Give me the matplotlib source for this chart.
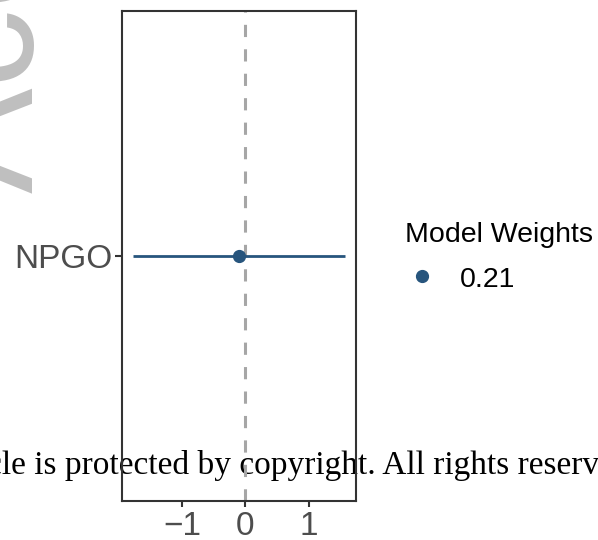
import matplotlib
matplotlib.use("Agg")
import matplotlib.pyplot as plt
from matplotlib.lines import Line2D

# data
covariates = ["NPGO"]
estimate = [-0.11]
lower = [-1.78]
upper = [1.575]
model_weights = [0.21]

point_color = "#27557d"
W, H = 598, 540

fig = plt.figure(figsize=(W / 100, H / 100), dpi=100)
ax = fig.add_axes([122 / W, 1 - 501 / H, (356 - 122) / W, (501 - 11) / H])
ax.set_facecolor("none")

ypos = list(range(1, len(covariates) + 1))
ax.axvline(0, color="#a6a6a6", lw=2.2, ls=(0, (4, 4)), zorder=1)
ax.hlines(ypos, lower, upper, color=point_color, lw=2.0, zorder=2)
ax.plot(estimate, ypos, "o", color=point_color, ms=8.5, zorder=3)

# ggplot-style 5% expansion on x, 0.6 on discrete y
lo, hi = min(lower), max(upper)
pad = 0.05 * (hi - lo)
ax.set_xlim(lo - pad, hi + pad)
ax.set_ylim(0.4, len(covariates) + 0.6)
ax.set_xticks([-1, 0, 1])
ax.set_xticklabels(["\u22121", "0", "1"])
ax.set_yticks(ypos)
ax.set_yticklabels(covariates)

for s in ax.spines.values():
    s.set_color("#333333")
    s.set_linewidth(1.5)
ax.tick_params(axis="x", colors="#333333", width=1.5, length=4.5, pad=3,
               labelsize=24, labelcolor="#4d4d4d")
ax.tick_params(axis="y", colors="#333333", width=1.5, length=5, pad=2,
               labelsize=24, labelcolor="#4d4d4d")
for lab in ax.get_xticklabels() + ax.get_yticklabels():
    lab.set_family("Liberation Sans")

# legend drawn by hand
fig.text(405 / W, 1 - 242 / H, "Model Weights", fontsize=20.5,
         family="Liberation Sans", va="baseline", ha="left")
fig.add_artist(Line2D([422 / W], [1 - 276 / H], marker="o", ms=8.5,
                      color=point_color, transform=fig.transFigure))
fig.text(460 / W, 1 - 287 / H, f"{model_weights[0]:.2f}", fontsize=20.5,
         family="Liberation Sans", va="baseline", ha="left")

# journal watermarks
fig.text(33 / W, 1 - 193 / H, "Accepted Article", fontsize=114,
         family="Liberation Sans", color="#bfbfbf", rotation=90,
         rotation_mode="anchor", ha="left", va="baseline", zorder=-2)
fig.text(-125 / W, 1 - 474 / H,
         "This article is protected by copyright. All rights reserved.",
         fontsize=24, family="Liberation Serif", color="black",
         ha="left", va="baseline", zorder=-1)

fig.savefig("out.png", dpi=100)
